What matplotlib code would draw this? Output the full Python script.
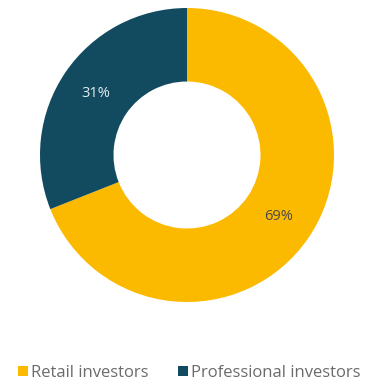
import numpy as np
import matplotlib.pyplot as plt
from matplotlib.patches import Patch

plt.rcParams['font.family'] = ['Open Sans', 'DejaVu Sans']

# investor split, in percent
categories = ["Retail investors", "Professional investors"]
shares = [69, 31]
colors = ["#FBB900", "#124B5F"]
label_colors = ["#4A4A4A", "#E6EEF1"]

fig = plt.figure(figsize=(3.67, 3.85), dpi=100)
ax = fig.add_axes([40 / 367, 1 - 302 / 385, 294 / 367, 294 / 385])

wedges, texts = ax.pie(shares, colors=colors, startangle=90, counterclock=False,
                       radius=1, wedgeprops=dict(width=0.5, linewidth=0))

# percentage labels in the middle of the ring
theta = 90.0
for val, col in zip(shares, label_colors):
    mid = np.deg2rad(theta - val * 3.6 / 2)
    ax.text(0.75 * np.cos(mid), 0.75 * np.sin(mid), f"{val}%", ha="center", va="center",
            fontsize=10.5, color=col)
    theta -= val * 3.6

ax.set_xlim(-1, 1)
ax.set_ylim(-1, 1)
ax.set_aspect("equal")
ax.axis("off")

handles = [Patch(facecolor=c, edgecolor="none") for c in colors]
fig.legend(handles, categories, loc="center", bbox_to_anchor=(0.516, 1 - 373 / 385), ncol=2,
           frameon=False, fontsize=12, labelcolor="#6B6B6B", handlelength=0.55, handleheight=0.55,
           handletextpad=0.2, columnspacing=1.8, borderaxespad=0)

fig.savefig("out.png", dpi=100)
